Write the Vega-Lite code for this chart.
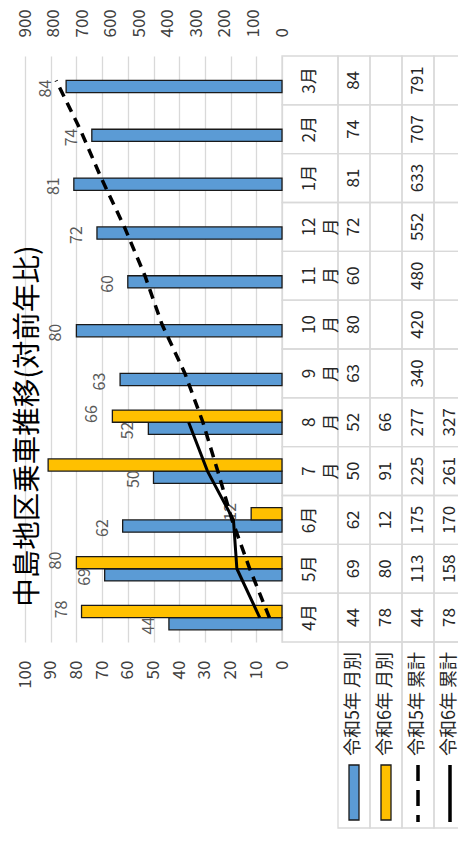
{
  "$schema": "https://vega.github.io/schema/vega-lite/v6.json",
  "width": 257,
  "height": 586,
  "autosize": {"type": "none"},
  "padding": {"left": 25, "top": 56, "right": 176, "bottom": 210},
  "background": "white",
  "config": {
    "view": {"stroke": null},
    "font": "Noto Sans CJK JP",
    "text": {"font": "Noto Sans CJK JP"}
  },
  "title": {
    "text": "中島地区乗車推移(対前年比)",
    "orient": "left",
    "anchor": "middle",
    "fontSize": 28.5,
    "fontWeight": "normal",
    "color": "#000000",
    "font": "Noto Sans CJK JP",
    "offset": -26,
    "dx": -77
  },
  "datasets": {
    "tbl": [
      {"m": "4月", "lab": "4月", "r5": 44, "r6": 78, "c5": 44, "c6": 78},
      {"m": "5月", "lab": "5月", "r5": 69, "r6": 80, "c5": 113, "c6": 158},
      {"m": "6月", "lab": "6月", "r5": 62, "r6": 12, "c5": 175, "c6": 170},
      {"m": "7月", "lab": "7\n月", "r5": 50, "r6": 91, "c5": 225, "c6": 261},
      {"m": "8月", "lab": "8\n月", "r5": 52, "r6": 66, "c5": 277, "c6": 327},
      {"m": "9月", "lab": "9\n月", "r5": 63, "r6": null, "c5": 340, "c6": null},
      {"m": "10月", "lab": "10\n月", "r5": 80, "r6": null, "c5": 420, "c6": null},
      {"m": "11月", "lab": "11\n月", "r5": 60, "r6": null, "c5": 480, "c6": null},
      {"m": "12月", "lab": "12\n月", "r5": 72, "r6": null, "c5": 552, "c6": null},
      {"m": "1月", "lab": "1月", "r5": 81, "r6": null, "c5": 633, "c6": null},
      {"m": "2月", "lab": "2月", "r5": 74, "r6": null, "c5": 707, "c6": null},
      {"m": "3月", "lab": "3月", "r5": 84, "r6": null, "c5": 791, "c6": null}
    ],
    "leg": [
      {"k": "r5", "name": "令和5年 月別"},
      {"k": "r6", "name": "令和6年 月別"},
      {"k": "c5", "name": "令和5年 累計"},
      {"k": "c6", "name": "令和6年 累計"}
    ],
    "legline": [
      {"k": "c5", "end": "a"},
      {"k": "c5", "end": "b"},
      {"k": "c6", "end": "a"},
      {"k": "c6", "end": "b"}
    ]
  },
  "layer": [
    {
      "data": {"name": "tbl"},
      "transform": [{"fold": ["lab", "r5", "r6", "c5", "c6"], "as": ["col", "val"]}, {"filter": "datum.col === 'lab'"}],
      "mark": {"type": "rect", "filled": false, "color": "#d9d9d9", "strokeWidth": 1.3},
      "encoding": {
        "x": {"field": "col", "type": "nominal", "scale": {"domain": ["lab"], "range": [257, 313], "paddingInner": 0, "paddingOuter": 0}, "axis": null},
        "y": {"field": "m", "type": "nominal", "scale": {"domain": ["3月", "2月", "1月", "12月", "11月", "10月", "9月", "8月", "7月", "6月", "5月", "4月"], "paddingInner": 0, "paddingOuter": 0}, "axis": null}
      }
    },
    {
      "data": {"name": "tbl"},
      "transform": [{"fold": ["r5", "r6", "c5", "c6"], "as": ["col", "val"]}],
      "mark": {"type": "rect", "filled": false, "color": "#d9d9d9", "strokeWidth": 1.3},
      "encoding": {
        "x": {"field": "col", "type": "nominal", "scale": {"domain": ["r5", "r6", "c5", "c6"], "range": [313, 441], "paddingInner": 0, "paddingOuter": 0}, "axis": null},
        "y": {"field": "m", "type": "nominal", "scale": {"domain": ["3月", "2月", "1月", "12月", "11月", "10月", "9月", "8月", "7月", "6月", "5月", "4月"], "paddingInner": 0, "paddingOuter": 0}, "axis": null}
      }
    },
    {
      "data": {"name": "tbl"},
      "transform": [{"fold": ["r5", "r6"], "as": ["s", "v"]}, {"filter": "isValid(datum.v)"}],
      "mark": {"type": "bar", "stroke": "#1a1a1a", "strokeWidth": 1.3},
      "encoding": {
        "y": {"field": "m", "type": "nominal", "scale": {"domain": ["3月", "2月", "1月", "12月", "11月", "10月", "9月", "8月", "7月", "6月", "5月", "4月"], "paddingInner": 0, "paddingOuter": 0}, "axis": null},
        "yOffset": {"field": "s", "type": "nominal", "scale": {"domain": ["r6", "r5"], "paddingInner": 0, "paddingOuter": 1}},
        "x": {
          "field": "v", "type": "quantitative",
          "scale": {"domain": [0, 100], "reverse": true, "nice": false},
          "axis": {"orient": "bottom", "tickCount": 10, "labelAngle": 270, "grid": true, "gridColor": "#d9d9d9", "gridWidth": 1.3, "domain": false, "ticks": false, "tickSize": 0, "labelPadding": 18, "labelFontSize": 17, "labelColor": "#404040", "labelFont": "Noto Sans CJK JP", "labelFlush": false, "labelOverlap": false, "title": null}
        },
        "color": {"field": "s", "type": "nominal", "scale": {"domain": ["r5", "r6"], "range": ["#5B9BD5", "#FFC000"]}, "legend": null}
      }
    },
    {
      "data": {"name": "tbl"},
      "transform": [{"fold": ["r5", "r6"], "as": ["s", "v"]}, {"filter": "isValid(datum.v) && datum.v < 90"}],
      "mark": {"type": "text", "angle": 270, "align": "center", "baseline": "middle", "dy": -20, "fontSize": 16, "color": "#595959"},
      "encoding": {
        "y": {"field": "m", "type": "nominal", "scale": {"domain": ["3月", "2月", "1月", "12月", "11月", "10月", "9月", "8月", "7月", "6月", "5月", "4月"], "paddingInner": 0, "paddingOuter": 0}, "axis": null},
        "yOffset": {"field": "s", "type": "nominal", "scale": {"domain": ["r6", "r5"], "paddingInner": 0, "paddingOuter": 1}},
        "x": {"field": "v", "type": "quantitative", "scale": {"domain": [0, 100], "reverse": true, "nice": false}, "axis": null},
        "text": {"field": "v", "type": "quantitative"}
      }
    },
    {
      "data": {"name": "tbl"},
      "mark": {"type": "line", "color": "#000000", "strokeWidth": 3.5, "strokeDash": [10, 7]},
      "encoding": {
        "y": {"field": "m", "type": "nominal", "scale": {"domain": ["3月", "2月", "1月", "12月", "11月", "10月", "9月", "8月", "7月", "6月", "5月", "4月"], "paddingInner": 0, "paddingOuter": 0}, "axis": null},
        "x": {
          "field": "c5", "type": "quantitative",
          "scale": {"domain": [0, 900], "reverse": true, "nice": false},
          "axis": {"orient": "top", "tickCount": 9, "labelAngle": 270, "grid": false, "domain": false, "ticks": false, "tickSize": 0, "labelPadding": 19, "labelFontSize": 17, "labelColor": "#404040", "labelFont": "Noto Sans CJK JP", "labelFlush": false, "labelOverlap": false, "title": null}
        },
        "order": {"field": "c5", "type": "quantitative"}
      }
    },
    {
      "data": {"name": "tbl"},
      "transform": [{"filter": "isValid(datum.c6)"}],
      "mark": {"type": "line", "color": "#000000", "strokeWidth": 3},
      "encoding": {
        "y": {"field": "m", "type": "nominal", "scale": {"domain": ["3月", "2月", "1月", "12月", "11月", "10月", "9月", "8月", "7月", "6月", "5月", "4月"], "paddingInner": 0, "paddingOuter": 0}, "axis": null},
        "x": {"field": "c6", "type": "quantitative", "scale": {"domain": [0, 900], "reverse": true, "nice": false}, "axis": null},
        "order": {"field": "c6", "type": "quantitative"}
      }
    },
    {
      "data": {"name": "tbl"},
      "transform": [{"fold": ["lab"], "as": ["col", "val"]}],
      "mark": {"type": "text", "angle": 270, "align": "center", "baseline": "middle", "fontSize": 17, "lineBreak": "\n", "lineHeight": 22, "color": "#262626"},
      "encoding": {
        "x": {"field": "col", "type": "nominal", "scale": {"domain": ["lab"], "range": [257, 313], "paddingInner": 0, "paddingOuter": 0}, "axis": null},
        "y": {"field": "m", "type": "nominal", "scale": {"domain": ["3月", "2月", "1月", "12月", "11月", "10月", "9月", "8月", "7月", "6月", "5月", "4月"], "paddingInner": 0, "paddingOuter": 0}, "axis": null},
        "text": {"field": "val", "type": "nominal"}
      }
    },
    {
      "data": {"name": "tbl"},
      "transform": [{"fold": ["r5", "r6", "c5", "c6"], "as": ["col", "val"]}, {"filter": "isValid(datum.val)"}],
      "mark": {"type": "text", "angle": 270, "align": "center", "baseline": "middle", "fontSize": 17, "color": "#262626"},
      "encoding": {
        "x": {"field": "col", "type": "nominal", "scale": {"domain": ["r5", "r6", "c5", "c6"], "range": [313, 441], "paddingInner": 0, "paddingOuter": 0}, "axis": null},
        "y": {"field": "m", "type": "nominal", "scale": {"domain": ["3月", "2月", "1月", "12月", "11月", "10月", "9月", "8月", "7月", "6月", "5月", "4月"], "paddingInner": 0, "paddingOuter": 0}, "axis": null},
        "text": {"field": "val", "type": "nominal"}
      }
    },
    {
      "data": {"name": "leg"},
      "mark": {"type": "rect", "filled": false, "color": "#d9d9d9", "strokeWidth": 1.3},
      "encoding": {
        "x": {"field": "k", "type": "nominal", "scale": {"domain": ["r5", "r6", "c5", "c6"], "range": [313, 441], "paddingInner": 0, "paddingOuter": 0}, "axis": null},
        "y": {"datum": "cell", "type": "nominal", "scale": {"domain": ["cell"], "range": [586, 772], "paddingInner": 0, "paddingOuter": 0}, "axis": null}
      }
    },
    {
      "data": {"name": "leg"},
      "mark": {"type": "text", "angle": 270, "align": "center", "baseline": "middle", "fontSize": 18, "color": "#262626"},
      "encoding": {
        "x": {"field": "k", "type": "nominal", "scale": {"domain": ["r5", "r6", "c5", "c6"], "range": [313, 441], "paddingInner": 0, "paddingOuter": 0}, "axis": null},
        "y": {"datum": "t", "type": "nominal", "scale": {"domain": ["t"], "range": [593, 703], "paddingInner": 0, "paddingOuter": 0}, "axis": null},
        "text": {"field": "name", "type": "nominal"}
      }
    },
    {
      "data": {"name": "leg"},
      "transform": [{"filter": "datum.k === 'r5' || datum.k === 'r6'"}],
      "mark": {"type": "bar", "width": 10, "stroke": "#1a1a1a", "strokeWidth": 1.3},
      "encoding": {
        "x": {"field": "k", "type": "nominal", "scale": {"domain": ["r5", "r6", "c5", "c6"], "range": [313, 441], "paddingInner": 0, "paddingOuter": 0}, "axis": null},
        "y": {"datum": "key", "type": "nominal", "scale": {"domain": ["key"], "range": [709, 764], "paddingInner": 0, "paddingOuter": 0}, "axis": null},
        "color": {"field": "k", "type": "nominal", "scale": {"domain": ["r5", "r6"], "range": ["#5B9BD5", "#FFC000"]}, "legend": null}
      }
    },
    {
      "data": {"name": "legline"},
      "mark": {"type": "line", "color": "#000000", "strokeWidth": 3.5},
      "encoding": {
        "x": {"field": "k", "type": "nominal", "scale": {"domain": ["r5", "r6", "c5", "c6"], "range": [313, 441], "paddingInner": 0, "paddingOuter": 0}, "axis": null},
        "y": {"field": "end", "type": "nominal", "scale": {"type": "point", "domain": ["a", "b"], "range": [709, 766], "padding": 0}, "axis": null},
        "detail": {"field": "k", "type": "nominal"},
        "strokeDash": {"field": "k", "type": "nominal", "scale": {"domain": ["c5", "c6"], "range": [[16, 9], [1, 0]]}, "legend": null},
        "order": {"field": "end", "type": "nominal"}
      }
    }
  ],
  "resolve": {
    "scale": {"x": "independent", "y": "independent", "yOffset": "independent", "color": "independent", "strokeDash": "independent"},
    "axis": {"x": "independent", "y": "independent"}
  }
}
